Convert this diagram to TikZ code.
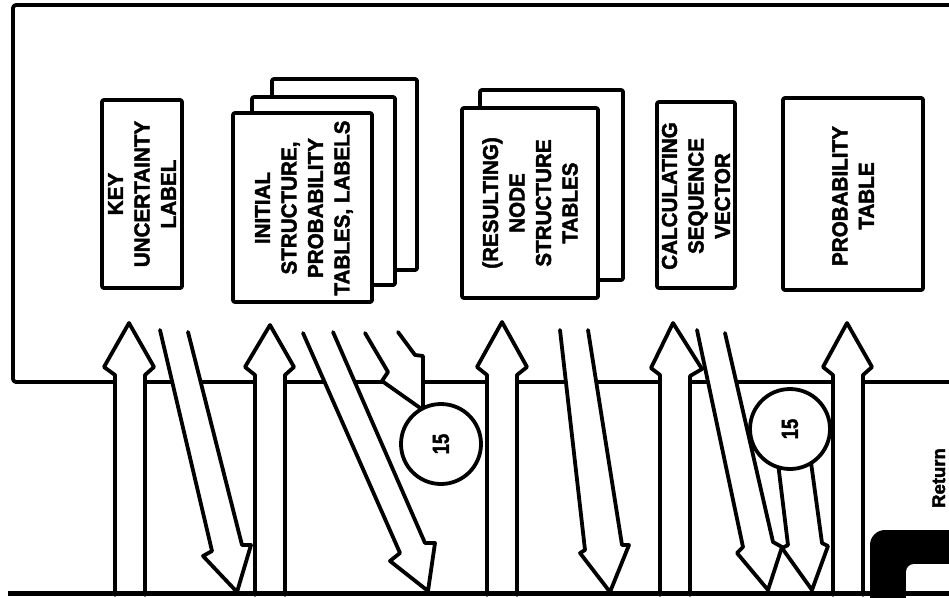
\documentclass[tikz,border=0pt]{standalone}
\usepackage{fontspec}
\setmainfont{Liberation Sans}[BoldFont={Liberation Sans Bold},BoldFeatures={FakeBold=2.2}]
\newcommand\BlkArr[7]{%
  \fill[white] #1--#2--#3--#4--#5--#6--#7--cycle;
  \draw #1--#2--#3--#4--#5--#6--#7;}
\begin{document}
\begin{tikzpicture}[x=1pt,y=-1pt,line width=3.8pt,line join=round,line cap=round,
  lbl/.style={rotate=90,align=center,inner sep=0pt,
    font=\bfseries\fontsize{21.5}{26.5}\selectfont},
  boxs/.style={draw,fill=white,rounded corners=2pt},
  num/.style={circle,draw,fill=white,minimum size=80pt,inner sep=0pt,rotate=90,
    font=\bfseries\fontsize{23}{24}\selectfont}]
\useasboundingbox (0,0) rectangle (949,597);
\clip (0,0) rectangle (949,597);
% outer frame
\draw[rounded corners=3pt] (980,5) -- (13,5) -- (13,382) -- (980,382);
% boxes
\draw[boxs] (102,100) rectangle (182,288);
\draw[boxs] (272,79) rectangle (417,270);
\draw[boxs] (252,97) rectangle (395,285);
\draw[boxs] (233,113) rectangle (372,302);
\draw[boxs] (480,90) rectangle (623,280);
\draw[boxs] (462,108) rectangle (598,298);
\draw[boxs] (657,102) rectangle (735,288);
\draw[boxs] (783,98) rectangle (923,290);
% labels
\node[lbl] (key) at (142,194) {\scalebox{0.96}[1]{KEY}\\\scalebox{0.96}[1]{UNCERTAINTY}\\\scalebox{0.96}[1]{LABEL}};
\node[lbl] (init) at (304,208) {\scalebox{0.96}[1]{INITIAL}\\\scalebox{0.96}[1]{STRUCTURE,}\\\scalebox{0.96}[1]{PROBABILITY}\\\scalebox{0.96}[1]{TABLES, LABELS}};
\node[lbl] (res) at (530,203) {\scalebox{0.96}[1]{(RESULTING)}\\\scalebox{0.96}[1]{NODE}\\\scalebox{0.96}[1]{STRUCTURE}\\\scalebox{0.96}[1]{TABLES}};
\node[lbl] (calc) at (696,196) {\scalebox{0.96}[1]{CALCULATING}\\\scalebox{0.96}[1]{SEQUENCE}\\\scalebox{0.96}[1]{VECTOR}};
\node[lbl] (prob) at (853,196) {\scalebox{0.96}[1]{PROBABILITY}\\\scalebox{0.96}[1]{TABLE}};
% up arrows
\BlkArr{(115,595)}{(115,375)}{(104,367)}{(129,323)}{(154,367)}{(145,375)}{(145,595)}
\BlkArr{(255,595)}{(255,375)}{(245,367)}{(270,325)}{(294,367)}{(285,375)}{(285,595)}
\BlkArr{(487,595)}{(487,375)}{(477,367)}{(502,322)}{(527,367)}{(517,375)}{(517,595)}
\BlkArr{(660,595)}{(660,375)}{(651,368)}{(673,323)}{(702,369)}{(690,376)}{(690,595)}
\BlkArr{(833,595)}{(833,375)}{(823,367)}{(847,323)}{(872,367)}{(863,375)}{(863,595)}
% down arrows
\BlkArr{(160,330)}{(212,551)}{(203,556)}{(237,592)}{(251,545)}{(242,545)}{(188,332)}
\BlkArr{(303,333)}{(400,553)}{(390,561)}{(428,591)}{(435,543)}{(425,543)}{(333,332)}
\BlkArr{(365,333)}{(388,372)}{(382,381)}{(423,410)}{(423,356)}{(415,355)}{(398,332)}
\BlkArr{(560,330)}{(585,550)}{(580,553)}{(610,592)}{(629,545)}{(622,545)}{(588,330)}
\BlkArr{(697,330)}{(743,547)}{(737,553)}{(768,590)}{(782,547)}{(773,542)}{(725,333)}
\BlkArr{(777,455)}{(788,545)}{(782,548)}{(812,590)}{(828,546)}{(822,543)}{(810,455)}
% circles
\node[num] (c1) at (441,444) {\scalebox{0.8}[1]{15}};
\node[num] (c2) at (790,429) {\scalebox{0.8}[1]{15}};
% bottom-right black corner
\fill[black,rounded corners=15pt] (870,530) rectangle (1000,640);
\fill[white,rounded corners=8pt] (906,564) rectangle (1000,640);
% bottom line
\draw[line width=5pt,line cap=butt] (8,593) -- (960,593);
\node[rotate=90,anchor=base,inner sep=0pt,font=\bfseries\fontsize{18.5}{20}\selectfont] (ret) at (945,478) {Return};
\end{tikzpicture}
\end{document}
